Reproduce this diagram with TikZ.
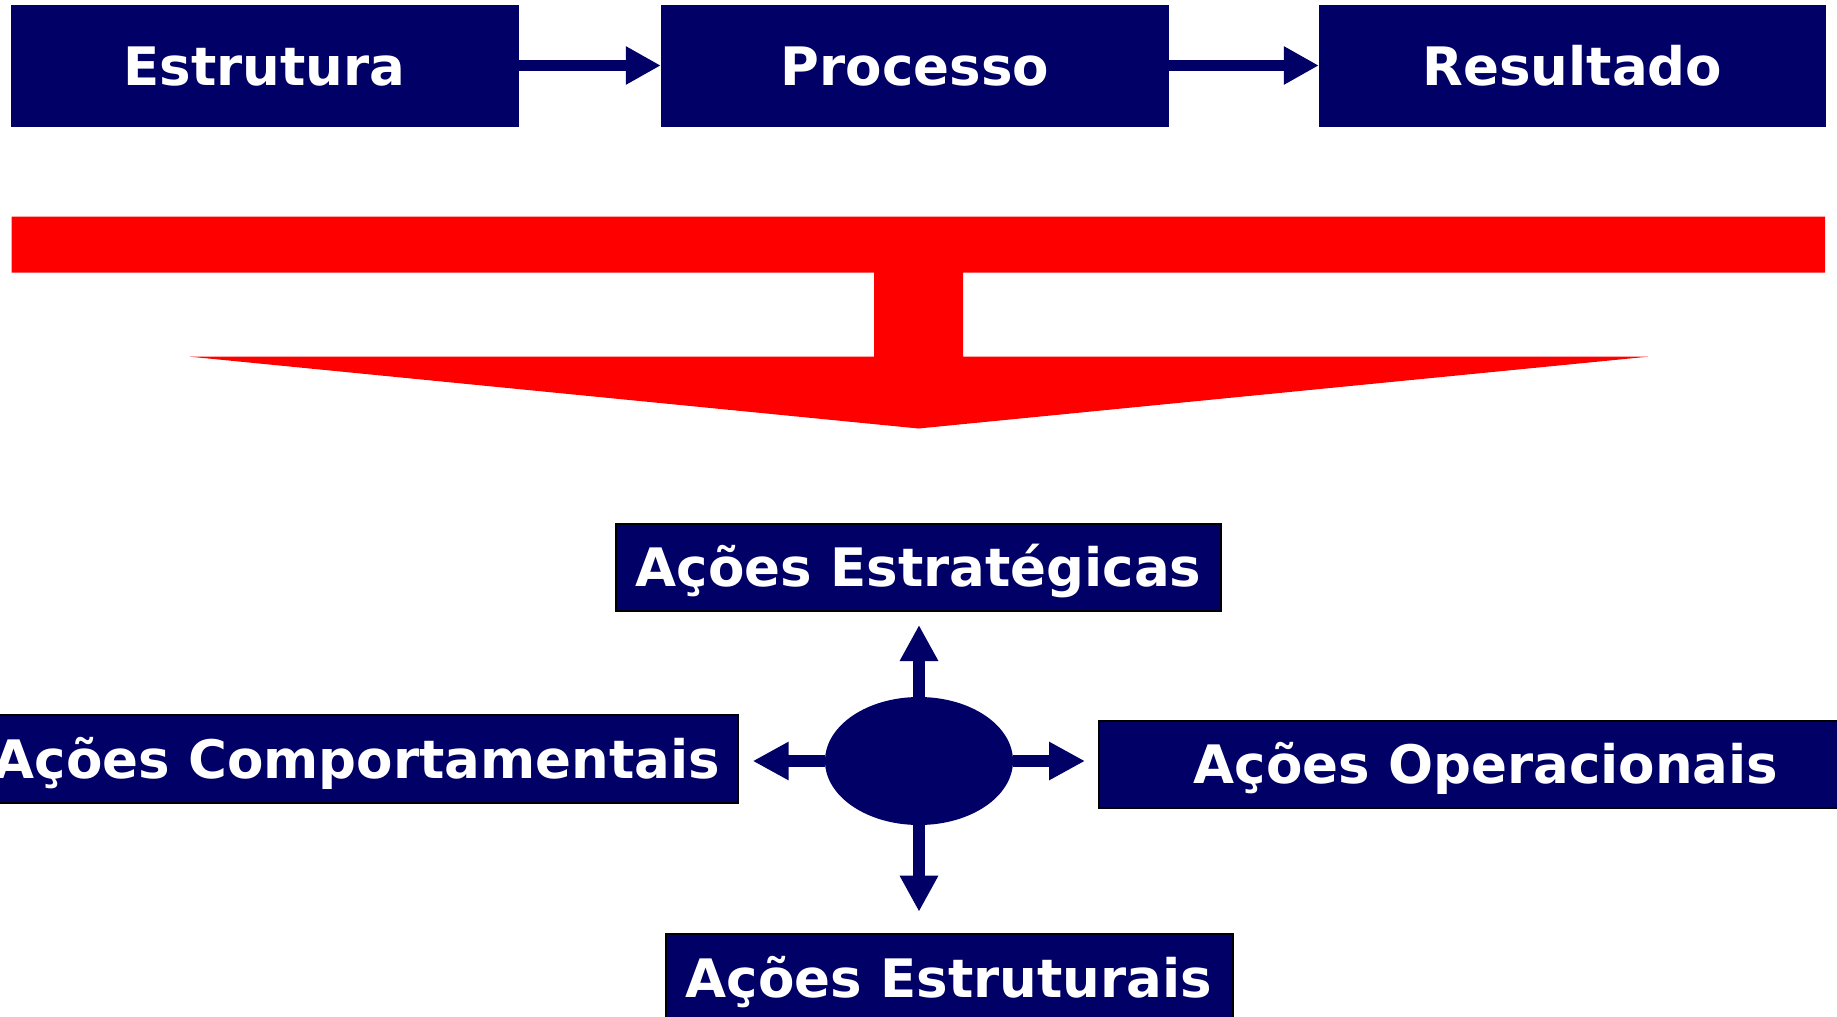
\documentclass[tikz,border=0pt]{standalone}
\usepackage{fontspec}
\setmainfont{DejaVu Sans}
\usetikzlibrary{shapes.geometric,arrows.meta}
\definecolor{navy}{RGB}{0,0,102}
\definecolor{alarm}{RGB}{255,0,0}
\begin{document}
\begin{tikzpicture}[x=1pt,y=-1pt,
  label text/.style={text=white, font=\bfseries\fontsize{53}{60}\selectfont, text height=39pt, text depth=0pt},
  headbox/.style={label text, fill=navy, draw=none, inner sep=0pt, rectangle},
  actionbox/.style={label text, fill=navy, draw=black, line width=2pt, inner sep=0pt, rectangle},
  flowarrow/.style={navy, line width=11pt, -{Triangle[length=35pt,width=36pt]}},
  spoke/.style={navy, line width=12pt, -{Triangle[length=36pt,width=36pt]}}]
\useasboundingbox (0,0) rectangle (1837,1017);

% top row: structure -> process -> result
\node[headbox, minimum width=508pt, minimum height=122pt] (estr) at (264.5,65.5) {Estrutura};
\node[headbox, minimum width=508pt, minimum height=122pt] (proc) at (915,65.5) {Processo};
\node[headbox, minimum width=507pt, minimum height=122pt] (res)  at (1572.5,65.5) {Resultado};
\draw[flowarrow] (estr) -- (proc);
\draw[flowarrow] (proc) -- (res);

% red funnel arrow
\fill[alarm] (11.7,216.7) -- (1825,216.7) -- (1825,272.7) -- (963,272.7) -- (963,356.7)
  -- (1648,356.7) -- (918.5,428.5) -- (190,356.7) -- (874,356.7) -- (874,272.7)
  -- (11.7,272.7) -- cycle;

% hub with four spokes
\node[ellipse, fill=navy, draw=none, inner sep=0pt, minimum width=188pt, minimum height=128pt] (hub) at (919,761) {};
\coordinate (tipN) at (919,625);
\coordinate (tipS) at (919,911.7);
\coordinate (tipW) at (752.7,761);
\coordinate (tipE) at (1085,761);
\draw[spoke] (hub.north) -- (tipN);
\draw[spoke] (hub.south) -- (tipS);
\draw[spoke] (hub.west) -- (tipW);
\draw[spoke] (hub.east) -- (tipE);

% action boxes
\node[actionbox, minimum width=605pt, minimum height=87pt] (estrat) at (918.5,567) {Ações Estratégicas};
\node[actionbox, minimum width=762pt, minimum height=88pt] (comp) at (357,758.5) {Ações Comportamentais};
\node[actionbox, minimum width=774pt, minimum height=87pt] (oper) at (1486,764) {Ações Operacionais};
\node[actionbox, minimum width=567pt, minimum height=87pt] (estru) at (949,977.5) {Ações Estruturais};
\end{tikzpicture}
\end{document}
